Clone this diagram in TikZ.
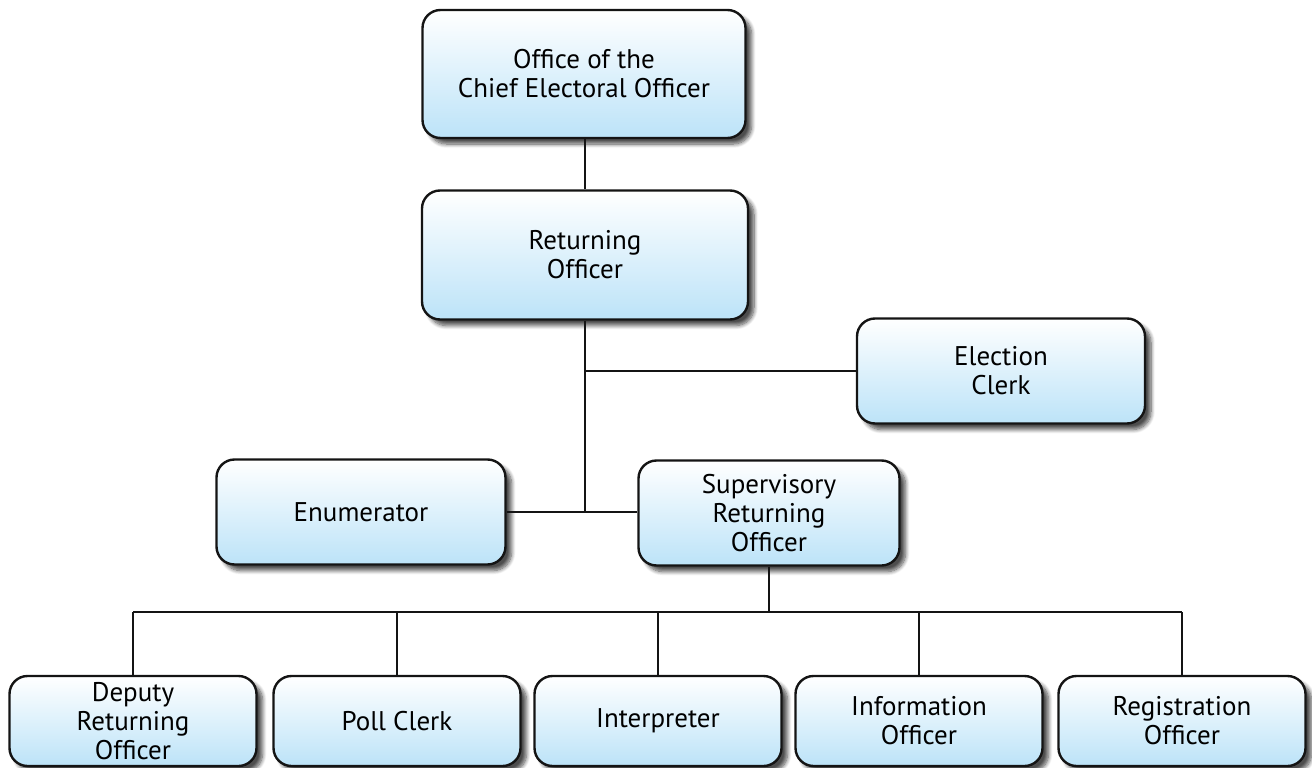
\documentclass[tikz,border=0pt]{standalone}
\usepackage{fontspec}
\setmainfont{PT Sans}
\usetikzlibrary{shadows.blur}
\definecolor{SkyLight}{RGB}{188,227,248}
\definecolor{Ink}{RGB}{20,20,20}

\tikzset{
  unit/.style={draw=Ink, line width=2.4pt, rounded corners=18pt,
    top color=white, bottom color=SkyLight, align=center,
    inner sep=1pt, font=\fontsize{27}{29}\selectfont,
    blur shadow={shadow xshift=6pt, shadow yshift=-6pt,
      shadow blur radius=4pt, shadow blur steps=8, shadow opacity=70}},
  staff/.style={unit, minimum width=247pt, minimum height=90pt},
  link/.style={draw=Ink, line width=1.8pt}
}

\begin{document}
\begin{tikzpicture}[x=1pt, y=-1pt]

  \useasboundingbox (0,0) rectangle (1312,768);

  % -------------------------------------------------------
  % Upper levels
  % -------------------------------------------------------
  \node[unit, minimum width=323pt, minimum height=128pt] (ceo) at (584, 74)
    {Office of the\\Chief Electoral Officer};
  \node[unit, minimum width=326pt, minimum height=129pt] (ro) at (585, 255)
    {Returning\\Officer};
  \node[unit, minimum width=288pt, minimum height=105pt] (clerk) at (1001, 371)
    {Election\\Clerk};

  % Middle level
  \node[unit, minimum width=289pt, minimum height=105pt] (enum) at (361, 512)
    {Enumerator};
  \node[unit, minimum width=261pt, minimum height=105pt] (sro) at (769, 513)
    {Supervisory\\Returning\\Officer};

  % -------------------------------------------------------
  % Bottom row (poll staff)
  % -------------------------------------------------------
  \node[staff] (dro)    at (133, 721) {Deputy\\Returning\\Officer};
  \node[staff] (poll)   at (397, 721) {Poll Clerk};
  \node[staff] (interp) at (658, 721) {Interpreter};
  \node[staff] (info)   at (919, 721) {Information\\Officer};
  \node[staff] (reg)    at (1182, 721) {Registration\\Officer};

  % bus line above the bottom row
  \coordinate (bus) at (768, 612);

  % -------------------------------------------------------
  % Connectors
  % -------------------------------------------------------
  \draw[link] (ceo.south) -- (ro.south |- ceo.south) -- (ro.north);
  \draw[link] (ro.south) -- (ro.south |- enum.east);
  \draw[link] (enum.east) -- (sro.west |- enum.east);
  \draw[link] (ro.south |- clerk.west) -- (clerk.west);

  \draw[link] (sro.south) -- (sro.south |- bus);
  \draw[link] (dro.north |- bus) -- (reg.north |- bus);
  \foreach \n in {dro, poll, interp, info, reg}
    \draw[link] (\n.north |- bus) -- (\n.north);

\end{tikzpicture}
\end{document}
